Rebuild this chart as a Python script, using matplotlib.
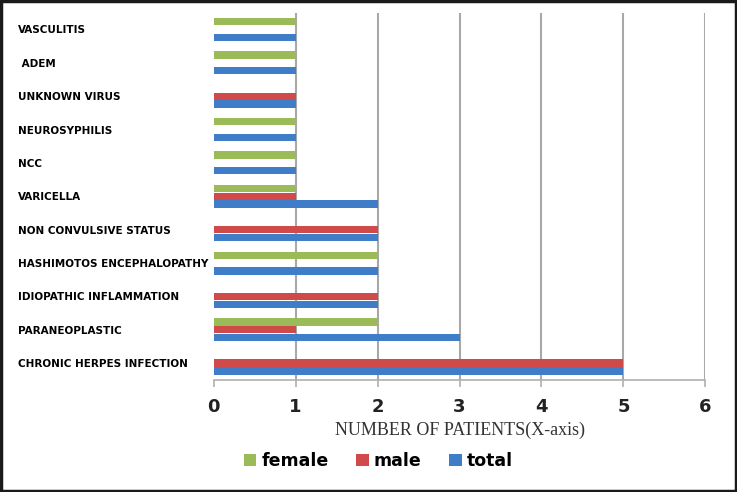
import numpy as np
import matplotlib.pyplot as plt
import matplotlib.transforms as mtransforms
from matplotlib.patches import Rectangle

# bottom to top, as in the chart
categories = [
    "CHRONIC HERPES INFECTION",
    "PARANEOPLASTIC",
    "IDIOPATHIC INFLAMMATION",
    "HASHIMOTOS ENCEPHALOPATHY",
    "NON CONVULSIVE STATUS",
    "VARICELLA",
    "NCC",
    "NEUROSYPHILIS",
    "UNKNOWN VIRUS",
    " ADEM",
    "VASCULITIS",
]
total = [5, 3, 2, 2, 2, 2, 1, 1, 1, 1, 1]
male = [5, 1, 2, 0, 2, 1, 0, 0, 1, 0, 0]
female = [0, 2, 0, 2, 0, 1, 1, 1, 0, 1, 1]

c_female = "#9BBB59"
c_male = "#D04A4A"
c_total = "#3F7DC8"

fig = plt.figure(figsize=(7.37, 4.92), dpi=100)
ax = fig.add_axes([0.290, 0.228, 0.667, 0.746])

y = np.arange(len(categories))
h = 0.22
off = 0.235
ax.barh(y - off, total, height=h, color=c_total, label="total", zorder=3)
ax.barh(y, male, height=h, color=c_male, label="male", zorder=3)
ax.barh(y + off, female, height=h, color=c_female, label="female", zorder=3)

ax.set_xlim(0, 6)
ax.set_ylim(-0.5, 10.5)
ax.set_xticks(range(0, 7))
ax.grid(axis="x", color="#a8a8a8", linewidth=1.5, zorder=0)
ax.grid(axis="y", visible=False)
# no gridline at zero in the original
ax.get_xgridlines()[0].set_visible(False)

for s in ["top", "right", "left"]:
    ax.spines[s].set_visible(False)
ax.spines["bottom"].set_color("#b0b0b0")
ax.spines["bottom"].set_linewidth(1.2)
ax.tick_params(axis="x", length=5, color="#b0b0b0", width=1.2, pad=8,
               labelsize=13)
for lb in ax.get_xticklabels():
    lb.set_fontweight("bold")
    lb.set_color("#222222")

# category labels are left aligned at the figure's left edge
ax.set_yticks(y)
ax.set_yticklabels(categories)
ax.tick_params(axis="y", length=0, pad=0)
shift = mtransforms.ScaledTranslation((18 - 214) / 100, 0, fig.dpi_scale_trans)
for lb in ax.get_yticklabels():
    lb.set_fontfamily(["Liberation Sans Narrow", "DejaVu Sans"])
    lb.set_fontweight("bold")
    lb.set_fontsize(7.5)
    lb.set_horizontalalignment("left")
    lb.set_transform(lb.get_transform() + shift)

ax.set_xlabel("NUMBER OF PATIENTS(X-axis)", family="Liberation Serif",
              fontsize=13, color="#333333", labelpad=4)

handles, labels = ax.get_legend_handles_labels()
order = [2, 1, 0]
fig.legend([handles[i] for i in order], [labels[i] for i in order],
           loc="center left", bbox_to_anchor=(0.31, 0.062), ncol=3, frameon=False,
           handlelength=0.7, handleheight=0.7, handletextpad=0.3,
           columnspacing=1.6, prop={"size": 12.5, "weight": "bold"})

fig.patches.append(Rectangle((0.0015, 0.002), 0.997, 0.996, transform=fig.transFigure,
                             fill=False, edgecolor="#1a1a1a", linewidth=2.5))

fig.savefig("out.png", dpi=100)
